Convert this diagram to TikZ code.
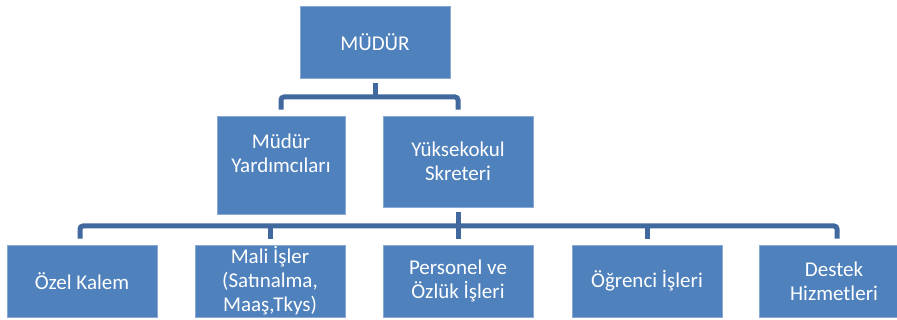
\documentclass[tikz,border=0pt]{standalone}
\usepackage{fontspec}
\setmainfont{Carlito}
\definecolor{boxfill}{HTML}{4F81BD}
\definecolor{boxline}{HTML}{8AAAD6}
\definecolor{connc}{HTML}{41699E}
\begin{document}
\begin{tikzpicture}[x=1pt,y=-1pt,
  orgbox/.style={draw=boxline,line width=0.8pt,fill=boxfill,text=white,align=center,
    inner sep=0pt,font=\fontsize{21}{24}\selectfont},
  lbl/.style={text=white,align=center,inner sep=0pt,font=\fontsize{21}{24}\selectfont},
  conn/.style={draw=connc,line width=5pt,rounded corners=3pt}]
\useasboundingbox (0,0) rectangle (897,320);
% boxes
\node[orgbox,minimum width=150,minimum height=72] (mudur) at (375,42) {MÜDÜR};
\node[orgbox,minimum width=128,minimum height=98] (myard) at (281,165) {};
\node[lbl] (myardt) at (281,153) {Müdür\\Yardımcıları};
\node[orgbox,minimum width=150,minimum height=91] (ysek) at (458,161.5) {Yüksekokul\\Skreteri};
\node[orgbox,minimum width=150,minimum height=72] (ozel) at (82,281) {Özel Kalem};
\node[orgbox,minimum width=150,minimum height=72] (mali) at (270,281) {Mali İşler\\(Satınalma,\\Maaş,Tkys)};
\node[orgbox,minimum width=150,minimum height=72] (pers) at (458,281) {Personel ve\\Özlük İşleri};
\node[orgbox,minimum width=150,minimum height=72] (ogr) at (647,281) {Öğrenci İşleri};
\node[orgbox,minimum width=150,minimum height=72] (destek) at (834,281) {Destek\\Hizmetleri};
% connectors
\coordinate (busA) at (375,97);
\coordinate (busB) at (458,226);
\draw[conn] ([yshift=-5pt]mudur.south) -- (busA);
\draw[conn] ([yshift=6pt]myard.north) |- (busA) -| ([yshift=6pt]ysek.north);
\draw[conn] ([yshift=-5pt]ysek.south) -- ([yshift=6pt]pers.north);
\draw[conn] ([yshift=6pt,xshift=-2pt]ozel.north) |- (busB) -| ([yshift=6pt,xshift=3pt]destek.north);
\draw[conn] (mali.north |- busB) -- ([yshift=6pt]mali.north);
\draw[conn] (ogr.north |- busB) -- ([yshift=6pt]ogr.north);
\end{tikzpicture}
\end{document}
